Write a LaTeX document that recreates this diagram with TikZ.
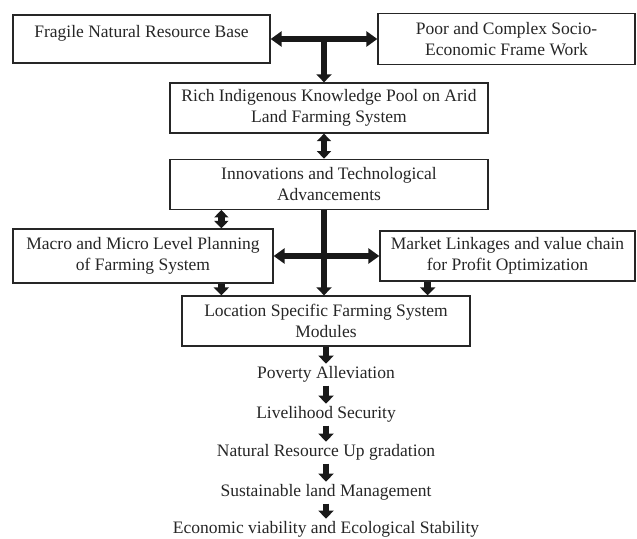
\documentclass[tikz,border=0pt]{standalone}
\usepackage{fontspec}
\setmainfont{Liberation Serif}
\usepackage{tikz}
\usetikzlibrary{arrows.meta,positioning,calc}

\begin{document}
\begin{tikzpicture}[
    x=1pt, y=1pt,
    node distance=25pt,
    font=\fontsize{17.5}{21}\selectfont,
    block/.style={rectangle, draw=black!85, text=black!85, line width=1.3pt, align=center, minimum width=257pt, minimum height=50pt, inner sep=2pt},
    wideblock/.style={block, minimum width=318pt},
    outcome/.style={text=black!85, inner sep=0pt, outer sep=3pt, text height=12pt, text depth=4pt},
    arrow/.style={-{Triangle[width=15pt,length=8pt]}, line width=6.5pt, black!90},
    dblarrow/.style={{Triangle[width=14pt,length=7.5pt]}-{Triangle[width=14pt,length=7.5pt]}, line width=6.5pt, black!90},
    sidearrow/.style={{Triangle[width=15pt,length=11pt]}-{Triangle[width=15pt,length=11pt]}, line width=6.5pt, black!90}
]
\useasboundingbox (0,0) rectangle (637,-538);

% Top row
\node[block, minimum height=48pt] (fragile) at (141.5,-39) {Fragile Natural Resource Base\\[-13pt]\strut};
\node[block, minimum height=51pt] (poor) at (506.5,-39) {Poor and Complex Socio-\\Economic Frame Work};

% Knowledge and innovations
\node[wideblock] (rich) at (329,-108) {Rich Indigenous Knowledge Pool on Arid\\Land Farming System};
\node[wideblock, below=of rich] (innov) {Innovations and Technological\\Advancements};

% Planning and markets
\node[block, minimum width=260pt, minimum height=54pt] (macro) at (143,-256) {Macro and Micro Level Planning\\of Farming System};
\node[block, minimum width=255pt] (market) at (507.5,-256) {Market Linkages and value chain\\for Profit Optimization};

% Modules
\node[block, minimum width=288pt] (location) at (326,-321) {Location Specific Farming System\\Modules};

% Outcomes
\node[outcome, below=17pt of location] (poverty) {Poverty Alleviation};
\node[outcome, below=18pt of poverty] (livelihood) {Livelihood Security};
\node[outcome, below=16pt of livelihood] (natural) {Natural Resource Up gradation};
\node[outcome, below=18pt of natural] (sustain) {Sustainable land Management};
\node[outcome, below=15pt of sustain] (economic) {Economic viability and Ecological Stability};

% Arrows
\coordinate (mid) at ($(fragile.east)!.5!(poor.west)$);
\coordinate (lx) at ([xshift=52pt]innov.south west);
\coordinate (rx) at ([xshift=-43pt]location.north east);
\draw[sidearrow] (fragile) -- (poor);
\draw[arrow] (mid) -- (mid |- rich.north);
\draw[dblarrow] (mid |- rich.south) -- (mid |- innov.north);
\draw[dblarrow] (lx) -- (lx |- macro.north);
\draw[arrow] (mid |- innov.south) -- (mid |- location.north);
\draw[sidearrow] (macro) -- (market);
\draw[arrow] (lx |- macro.south) -- (lx |- location.north);
\draw[arrow] (rx |- market.south) -- (rx);
\draw[arrow] (location) -- (poverty);
\draw[arrow] (poverty) -- (livelihood);
\draw[arrow] (livelihood) -- (natural);
\draw[arrow] (natural) -- (sustain);
\draw[arrow] (sustain) -- (economic);

\end{tikzpicture}
\end{document}
